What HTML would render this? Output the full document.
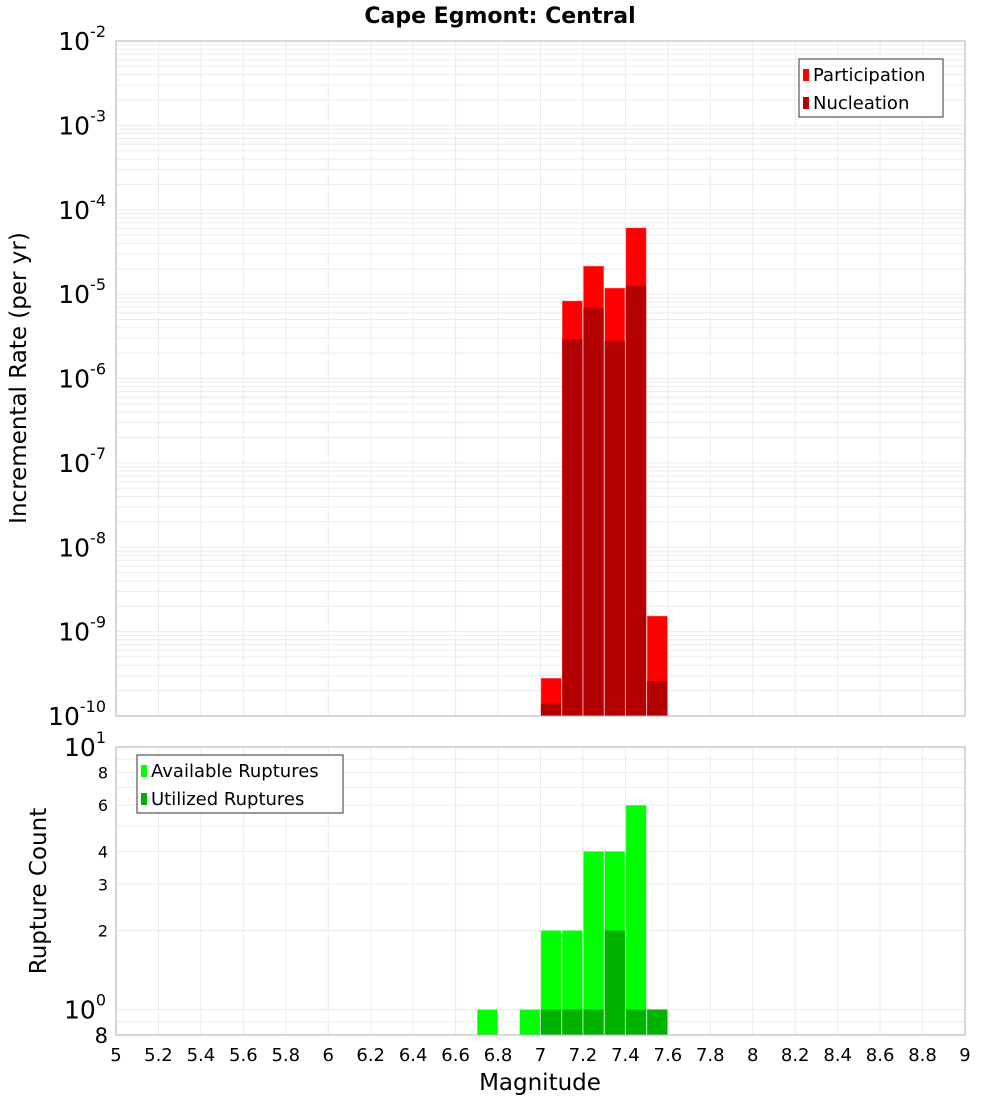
<!DOCTYPE html>
<html><head><meta charset="utf-8"><style>
body{margin:0;background:#fff;width:1000px;height:1100px;overflow:hidden}
svg text{font-family:"DejaVu Sans","Liberation Sans",sans-serif}
</style></head><body>
<svg id="c" width="1000" height="1100" xmlns="http://www.w3.org/2000/svg"></svg>
<script>
const binCenters=[7.05,7.15,7.25,7.35,7.45,7.55];
const participation=[2.8e-10,8.3e-6,2.15e-5,1.18e-5,6.1e-5,1.53e-9];
const nucleation=[1.4e-10,2.9e-6,6.9e-6,2.8e-6,1.25e-5,2.6e-10];
const countCenters=[6.75,6.95,7.05,7.15,7.25,7.35,7.45,7.55];
const available=[1,1,2,2,4,4,6,1];
const utilized=[0,0,1,1,1,2,1,1];
const xTicks=[5,5.2,5.4,5.6,5.8,6,6.2,6.4,6.6,6.8,7,7.2,7.4,7.6,7.8,8,8.2,8.4,8.6,8.8,9];
const topExps=[-2,-3,-4,-5,-6,-7,-8,-9,-10];
const botMinor=[2,3,4,6,8];

const svg=document.getElementById('c');
const NS='http://www.w3.org/2000/svg';
function el(t,a,p){const e=document.createElementNS(NS,t);for(const k in a)e.setAttribute(k,a[k]);(p||svg).appendChild(e);return e;}
const L=116,R=965,T1=41,B1=716,T2=747,B2=1035;
const x=v=>L+(v-5)/4*(R-L);
const y1=v=>T1+(-2-Math.log10(v))/8*(B1-T1);
const y2=v=>T2+(1-Math.log10(v))/(1-Math.log10(0.8))*(B2-T2);

let t=el('text',{x:500,y:23,'text-anchor':'middle','font-size':22,'font-weight':'bold'});t.textContent='Cape Egmont: Central';


const g=el('g',{});
xTicks.forEach(v=>{el('line',{x1:x(v),x2:x(v),y1:T1,y2:B1,stroke:'#ebebeb'},g);el('line',{x1:x(v),x2:x(v),y1:T2,y2:B2,stroke:'#ebebeb'},g);});
for(let e=-10;e<-2;e++)for(let m=1;m<10;m++){const yy=y1(m*Math.pow(10,e));el('line',{x1:L,x2:R,y1:yy,y2:yy,stroke:'#ebebeb'},g);}
[1,2,3,4,5,6,7,8,9].forEach(m=>{const yy=y2(m);el('line',{x1:L,x2:R,y1:yy,y2:yy,stroke:'#ebebeb'},g);});
el('line',{x1:L,x2:R,y1:y2(0.9),y2:y2(0.9),stroke:'#ebebeb'},g);

const bw=(R-L)/40;
binCenters.forEach((c,i)=>{
 let r=el('rect',{x:x(c)-bw/2+0.5,y:y1(participation[i]),width:bw-1,height:B1-y1(participation[i]),fill:'#ff0000',stroke:'#ff8080','stroke-width':0.5});
 
 r=el('rect',{x:x(c)-bw/2+0.5,y:y1(nucleation[i]),width:bw-1,height:B1-y1(nucleation[i]),fill:'#b30000'});
 
});
countCenters.forEach((c,i)=>{
 let r=el('rect',{x:x(c)-bw/2+0.5,y:y2(available[i]),width:bw-1,height:B2-y2(available[i]),fill:'#00ff00',stroke:'#80ff80','stroke-width':0.5});
 
 if(utilized[i]>0){r=el('rect',{x:x(c)-bw/2+0.5,y:y2(utilized[i]),width:bw-1,height:B2-y2(utilized[i]),fill:'#00b300'});
 }
});

let f=el('rect',{x:L,y:T1,width:R-L,height:B1-T1,fill:'none',stroke:'#b0b0b0'});
f=el('rect',{x:L,y:T2,width:R-L,height:B2-T2,fill:'none',stroke:'#b0b0b0'});

topExps.forEach(e=>{const yy=y1(Math.pow(10,e));
 const tx=el('text',{x:106,y:yy+9,'text-anchor':'end','font-size':25});
 
 tx.innerHTML='10<tspan dy="-13" font-size="16">'+e+'</tspan>';});
let tx=el('text',{x:106,y:y2(1)+9,'text-anchor':'end','font-size':25});tx.innerHTML='10<tspan dy="-13" font-size="16">0</tspan>';

tx=el('text',{x:106,y:y2(10)+9,'text-anchor':'end','font-size':25});tx.innerHTML='10<tspan dy="-13" font-size="16">1</tspan>';

botMinor.forEach(m=>{const k=el('text',{x:108,y:y2(m)+6,'text-anchor':'end','font-size':16});k.textContent=m;
 });
tx=el('text',{x:108,y:1043,'text-anchor':'end','font-size':21});tx.textContent='8';


xTicks.forEach(v=>{const k=el('text',{x:x(v),y:1061,'text-anchor':'middle','font-size':18});k.textContent=String(v);
 });
tx=el('text',{x:540,y:1090,'text-anchor':'middle','font-size':23});tx.textContent='Magnitude';

tx=el('text',{x:0,y:0,'text-anchor':'middle','font-size':23,transform:'translate(26,378) rotate(-90)'});tx.textContent='Incremental Rate (per yr)';

tx=el('text',{x:0,y:0,'text-anchor':'middle','font-size':23,transform:'translate(46,891) rotate(-90)'});tx.textContent='Rupture Count';


function legend(x0,y0,w,items,name){const lg=el('g',{});
 el('rect',{x:x0,y:y0,width:w,height:58,fill:'#fff',stroke:'#333'},lg);
 items.forEach(([c,s],i)=>{el('rect',{x:x0+4,y:y0+10+i*28,width:6,height:12,fill:c},lg);
  const k=el('text',{x:x0+14,y:y0+22+i*28,'font-size':18},lg);k.textContent=s;});}
legend(799,59,144,[['#ff0000','Participation'],['#b30000','Nucleation']],'legend-top');
legend(137,755,206,[['#00ff00','Available Ruptures'],['#00b300','Utilized Ruptures']],'legend-bottom');
</script>
</body></html>
